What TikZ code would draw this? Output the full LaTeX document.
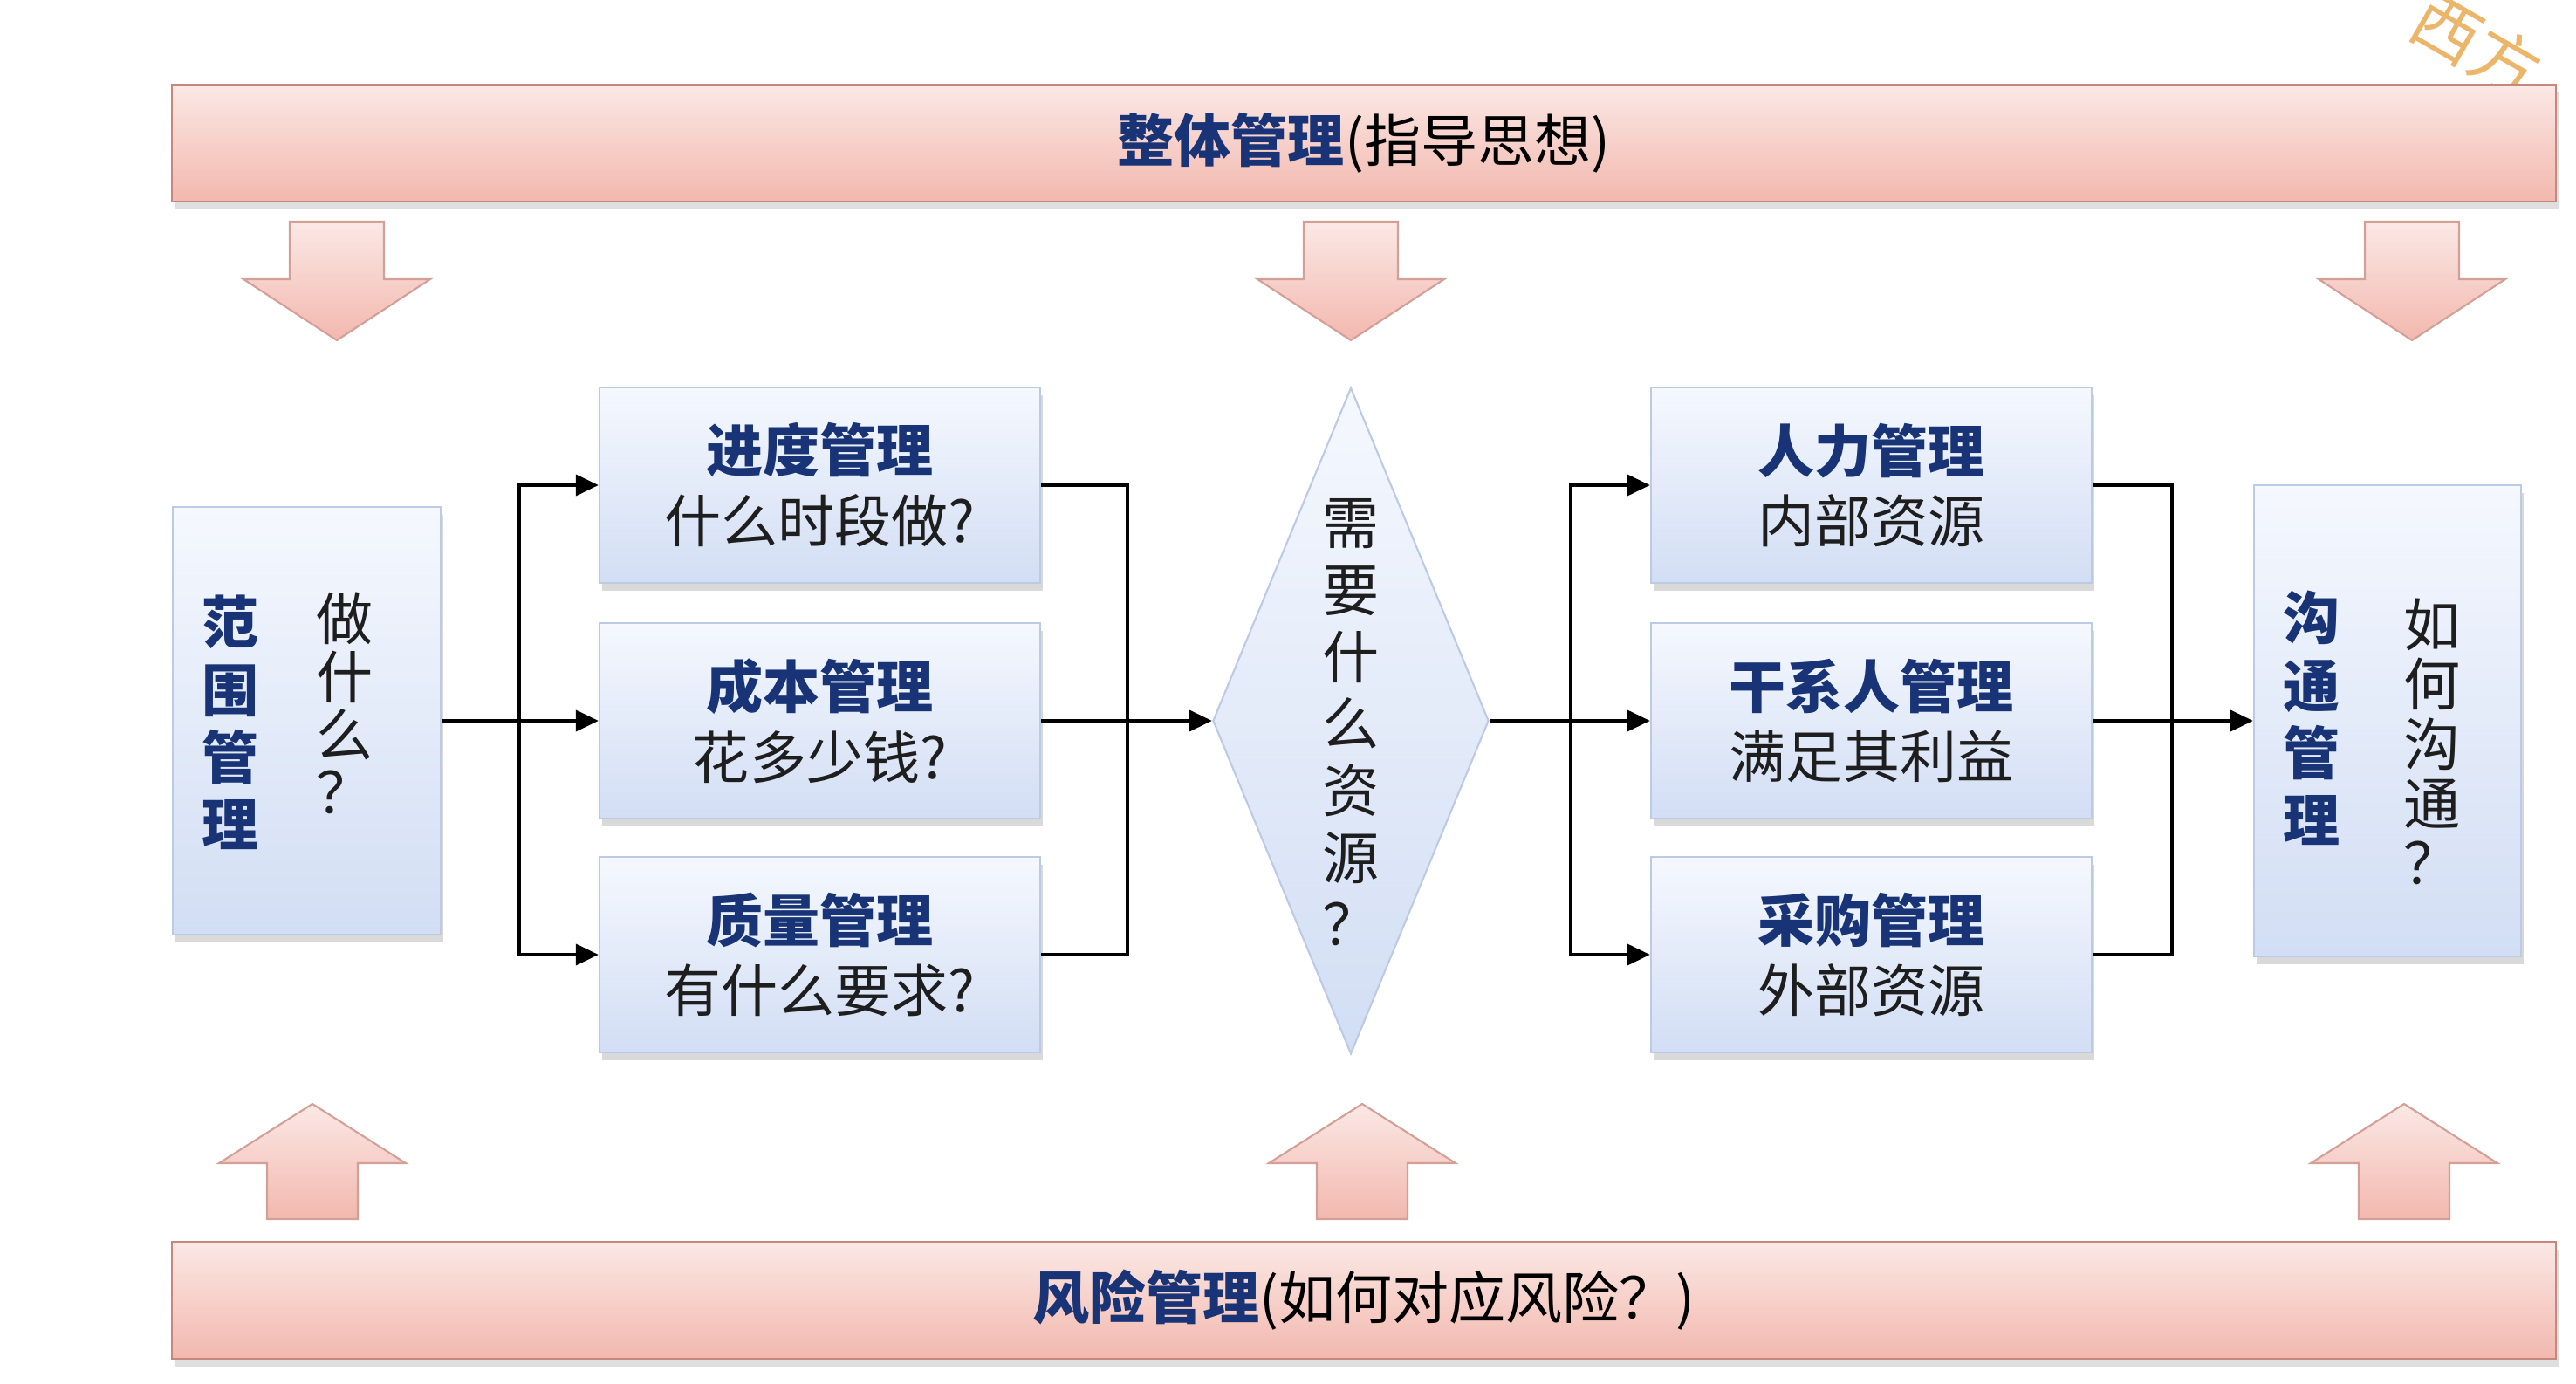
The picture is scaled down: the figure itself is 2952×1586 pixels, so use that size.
\documentclass[tikz,border=0pt]{standalone}
\usepackage{fontspec}
\setmainfont{Noto Sans CJK SC}
\usetikzlibrary{shapes.geometric,arrows.meta,shadows}
\definecolor{navy}{RGB}{24,52,118}
\definecolor{subtxt}{RGB}{30,30,30}
\definecolor{boxtop}{RGB}{245,248,254}
\definecolor{boxbot}{RGB}{210,222,244}
\definecolor{boxedge}{RGB}{188,202,228}
\definecolor{pinktop}{RGB}{251,232,229}
\definecolor{pinkbot}{RGB}{242,184,174}
\definecolor{pinkedge}{RGB}{200,135,125}
\definecolor{wmark}{RGB}{232,168,80}
\begin{document}
\begin{tikzpicture}[x=0.01cm,y=-0.01cm,
  bluebox/.style={rectangle, draw=boxedge, line width=0.6pt, top color=boxtop, bottom color=boxbot, inner sep=0pt,
    drop shadow={shadow xshift=0.3mm, shadow yshift=-0.9mm, opacity=0.3}},
  midbox/.style={bluebox, minimum width=5.05cm, minimum height=2.24cm, align=center,
    font=\fontsize{18.5}{23}\selectfont},
  pinkbar/.style={rectangle, draw=pinkedge, line width=0.7pt, top color=pinktop, bottom color=pinkbot, inner sep=0pt,
    minimum width=27.30cm, minimum height=1.34cm, font=\fontsize{18.5}{22}\selectfont,
    drop shadow={shadow xshift=0.3mm, shadow yshift=-0.9mm, opacity=0.25}},
  blockarr/.style={draw=pinkedge!80, line width=0.6pt, top color=pinktop, bottom color=pinkbot},
  vbold/.style={align=center, text=navy, font=\fontsize{18.5}{22}\selectfont\bfseries, inner sep=0pt},
  vreg/.style={align=center, text=subtxt, font=\fontsize{18.5}{18.8}\selectfont, inner sep=0pt},
  wire/.style={line width=1.1pt, black},
  arr/.style={wire, -{Triangle[length=2.6mm,width=2.4mm]}}
]
\useasboundingbox (0,0) rectangle (2952,1586);

% watermark
\node[rotate=-30, text=wmark!85, font=\fontsize{22}{22}\selectfont, inner sep=0pt] (wm) at (2838,52) {西方};

% top and bottom bars
\node[pinkbar] (top) at (1563,164) {{\bfseries\color{navy}整体管理}(指导思想)};
\node[pinkbar] (bot) at (1563,1490) {{\bfseries\color{navy}风险管理}(如何对应风险？)};

% block arrows
\foreach \cx in {386,1548,2764}{
  \path[blockarr] (\cx-54,254) -- (\cx+54,254) -- (\cx+54,320) -- (\cx+107,320) -- (\cx,390)
     -- (\cx-107,320) -- (\cx-54,320) -- cycle;
}
\foreach \cx in {358,1561,2755}{
  \path[blockarr] (\cx-52,1397) -- (\cx+52,1397) -- (\cx+52,1333) -- (\cx+107,1333) -- (\cx,1265)
     -- (\cx-107,1333) -- (\cx-52,1333) -- cycle;
}

% scope box
\node[bluebox, minimum width=3.07cm, minimum height=4.89cm] (scope) at (351.5,826) {};
\node[vbold] (scopeA) at (264,828) {范\\围\\管\\理};
\node[vreg] (scopeB) at (395,806) {做\\什\\么\\？};

% left boxes
\node[midbox] (sched) at (939.5,556) {{\bfseries\color{navy}进度管理}\\ \color{subtxt}什么时段做?};
\node[midbox] (cost) at (939.5,826) {{\bfseries\color{navy}成本管理}\\ \color{subtxt}花多少钱?};
\node[midbox] (qual) at (939.5,1094) {{\bfseries\color{navy}质量管理}\\ \color{subtxt}有什么要求?};

% diamond
\node[diamond, draw=boxedge, line width=0.6pt, top color=boxtop, bottom color=boxbot, inner sep=0pt,
      minimum width=3.16cm, minimum height=7.63cm] (dia) at (1548,826) {};
\node[align=center, text=subtxt, font=\fontsize{18.5}{21.8}\selectfont, inner sep=0pt] (diaT) at (1548,828)
  {需\\要\\什\\么\\资\\源\\？};

% right boxes
\node[midbox] (hr) at (2144.5,556) {{\bfseries\color{navy}人力管理}\\ \color{subtxt}内部资源};
\node[midbox] (stake) at (2144.5,826) {{\bfseries\color{navy}干系人管理}\\ \color{subtxt}满足其利益};
\node[midbox] (proc) at (2144.5,1094) {{\bfseries\color{navy}采购管理}\\ \color{subtxt}外部资源};

% communication box
\node[bluebox, minimum width=3.06cm, minimum height=5.40cm] (comm) at (2736,826) {};
\node[vbold] (commA) at (2649,823) {沟\\通\\管\\理};
\node[vreg, font=\fontsize{18.5}{19.4}\selectfont] (commB) at (2787,850) {如\\何\\沟\\通\\？};

% junctions
\coordinate (j1) at (595,826);
\coordinate (j2) at (1292,826);
\coordinate (j3) at (1800,826);
\coordinate (j4) at (2489,826);

% connectors
\draw[wire] (scope.east) -- (j1);
\draw[arr] (j1) |- (sched.west);
\draw[arr] (j1) -- (cost.west);
\draw[arr] (j1) |- (qual.west);
\draw[wire] (sched.east) -| (j2);
\draw[wire] (qual.east) -| (j2);
\draw[arr] (cost.east) -- (dia.west);
\draw[wire] (dia.east) -- (j3);
\draw[arr] (j3) |- (hr.west);
\draw[arr] (j3) -- (stake.west);
\draw[arr] (j3) |- (proc.west);
\draw[wire] (hr.east) -| (j4);
\draw[wire] (proc.east) -| (j4);
\draw[arr] (stake.east) -- (comm.west);
\end{tikzpicture}
\end{document}
